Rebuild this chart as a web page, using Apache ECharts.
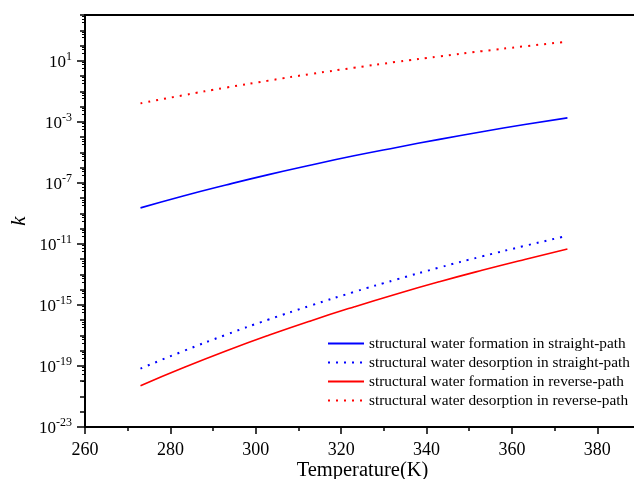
<!DOCTYPE html>
<html>
<head>
<meta charset="utf-8">
<script src="https://cdn.jsdelivr.net/npm/echarts@6/dist/echarts.min.js"></script>
<style>html,body{margin:0;padding:0;background:#fff}#c{width:634px;height:479px}</style>
</head>
<body>
<div id="c"></div>
<script>
const temperature = [273, 283, 293, 303, 313, 323, 333, 343, 353, 363, 373];
const formationStraight = [2.29e-9, 1.38e-8, 7.24e-8, 3.47e-7, 1.48e-6, 5.89e-6, 2.09e-5, 7.08e-5, 2.24e-4, 6.61e-4, 1.82e-3];
const desorptionStraight = [6.76e-20, 9.33e-19, 1.10e-17, 1.10e-16, 9.33e-16, 7.08e-15, 4.68e-14, 2.82e-13, 1.51e-12, 7.41e-12, 3.39e-11];
const formationReverse = [5.13e-21, 7.59e-20, 9.55e-19, 1.02e-17, 9.33e-17, 7.41e-16, 5.25e-15, 3.31e-14, 1.86e-13, 9.55e-13, 4.57e-12];
const desorptionReverse = [1.62e-2, 5.50e-2, 1.74e-1, 5.01e-1, 1.38, 3.47, 8.51, 19.5, 42.7, 89.1, 178];
const seriesNames = [
  'structural water formation in straight-path',
  'structural water desorption in straight-path',
  'structural water formation in reverse-path',
  'structural water desorption in reverse-path'
];
const xLabels = [260, 280, 300, 320, 340, 360, 380];
const yLabelValues = [1e-23, 1e-19, 1e-15, 1e-11, 1e-7, 1e-3, 1e1];

const FONT = '"Liberation Serif", "Times New Roman", serif';
function pairs(vals) { return temperature.map((t, i) => [t, vals[i]]); }

const chart = echarts.init(document.getElementById('c'), null, {renderer: 'canvas'});
chart.setOption({
  animation: false,
  backgroundColor: '#fff',
  grid: {left: 85, top: 15, width: 555, height: 412, outerBoundsMode: 'none', containLabel: false,
         show: true, borderColor: '#000', borderWidth: 2, backgroundColor: 'transparent'},
  legend: {
    orient: 'vertical', left: 322, top: 331,
    itemWidth: 36, itemHeight: 10, itemGap: 4,
    itemStyle: {opacity: 0},
    textStyle: {fontFamily: FONT, fontSize: 15.3, color: '#000'},
    data: seriesNames
  },
  xAxis: {
    type: 'value', min: 260, max: 390, interval: 20,
    name: 'Temperature(K)', nameLocation: 'middle', nameGap: 33, nameMoveOverlap: false,
    nameTextStyle: {fontFamily: FONT, fontSize: 20.5, color: '#000'},
    axisLine: {lineStyle: {color: '#000', width: 2}},
    axisTick: {show: true, inside: false, length: 7, lineStyle: {color: '#000', width: 1.5}},
    minorTick: {show: true, splitNumber: 2, length: 4, lineStyle: {color: '#000', width: 1.5}},
    splitLine: {show: false},
    axisLabel: {
      fontFamily: FONT, fontSize: 18, color: '#000', margin: 14,
      formatter: v => xLabels.indexOf(v) >= 0 ? String(v) : ''
    }
  },
  yAxis: [{
    type: 'log', logBase: 10, min: 1e-23, max: 1e4, interval: 4,
    name: 'k', nameLocation: 'middle', nameGap: 55, nameRotate: 90, nameMoveOverlap: false,
    nameTextStyle: {fontFamily: FONT, fontSize: 21, fontStyle: 'italic', color: '#000'},
    axisLine: {lineStyle: {color: '#000', width: 2}},
    axisTick: {show: true, inside: false, length: 8, customValues: yLabelValues, lineStyle: {color: '#000', width: 1.5}},
    splitLine: {show: false},
    axisLabel: {
      margin: 13, customValues: yLabelValues, showMinLabel: true, hideOverlap: false,
      formatter: v => '{b|10}{s|' + Math.round(Math.log10(v)) + '}',
      rich: {
        b: {fontFamily: FONT, fontSize: 17, color: '#000', verticalAlign: 'bottom'},
        s: {fontFamily: FONT, fontSize: 12, color: '#000', verticalAlign: 'bottom', padding: [0, 0, 8, 0]}
      }
    }
  }, {
    type: 'log', logBase: 10, min: 1e-23, max: 1e4, interval: 1, position: 'left',
    axisLine: {show: false},
    axisTick: {show: true, inside: false, length: 5, lineStyle: {color: '#000', width: 1.5}},
    minorTick: {show: true, splitNumber: 4, length: 3, lineStyle: {color: '#000', width: 1}},
    axisLabel: {show: false},
    splitLine: {show: false}
  }],
  series: [
    {name: seriesNames[0], type: 'line', data: pairs(formationStraight), smooth: true, symbol: 'none',
     lineStyle: {color: '#0000ff', width: 1.6}, itemStyle: {color: '#0000ff'}},
    {name: seriesNames[1], type: 'line', data: pairs(desorptionStraight), smooth: true, symbol: 'none',
     lineStyle: {color: '#0000ff', width: 2, type: [2, 6]}, itemStyle: {color: '#0000ff'}},
    {name: seriesNames[2], type: 'line', data: pairs(formationReverse), smooth: true, symbol: 'none',
     lineStyle: {color: '#ff0000', width: 1.6}, itemStyle: {color: '#ff0000'}},
    {name: seriesNames[3], type: 'line', data: pairs(desorptionReverse), smooth: true, symbol: 'none',
     lineStyle: {color: '#ff0000', width: 2, type: [2, 6]}, itemStyle: {color: '#ff0000'}}
  ]
});
</script>
</body>
</html>
